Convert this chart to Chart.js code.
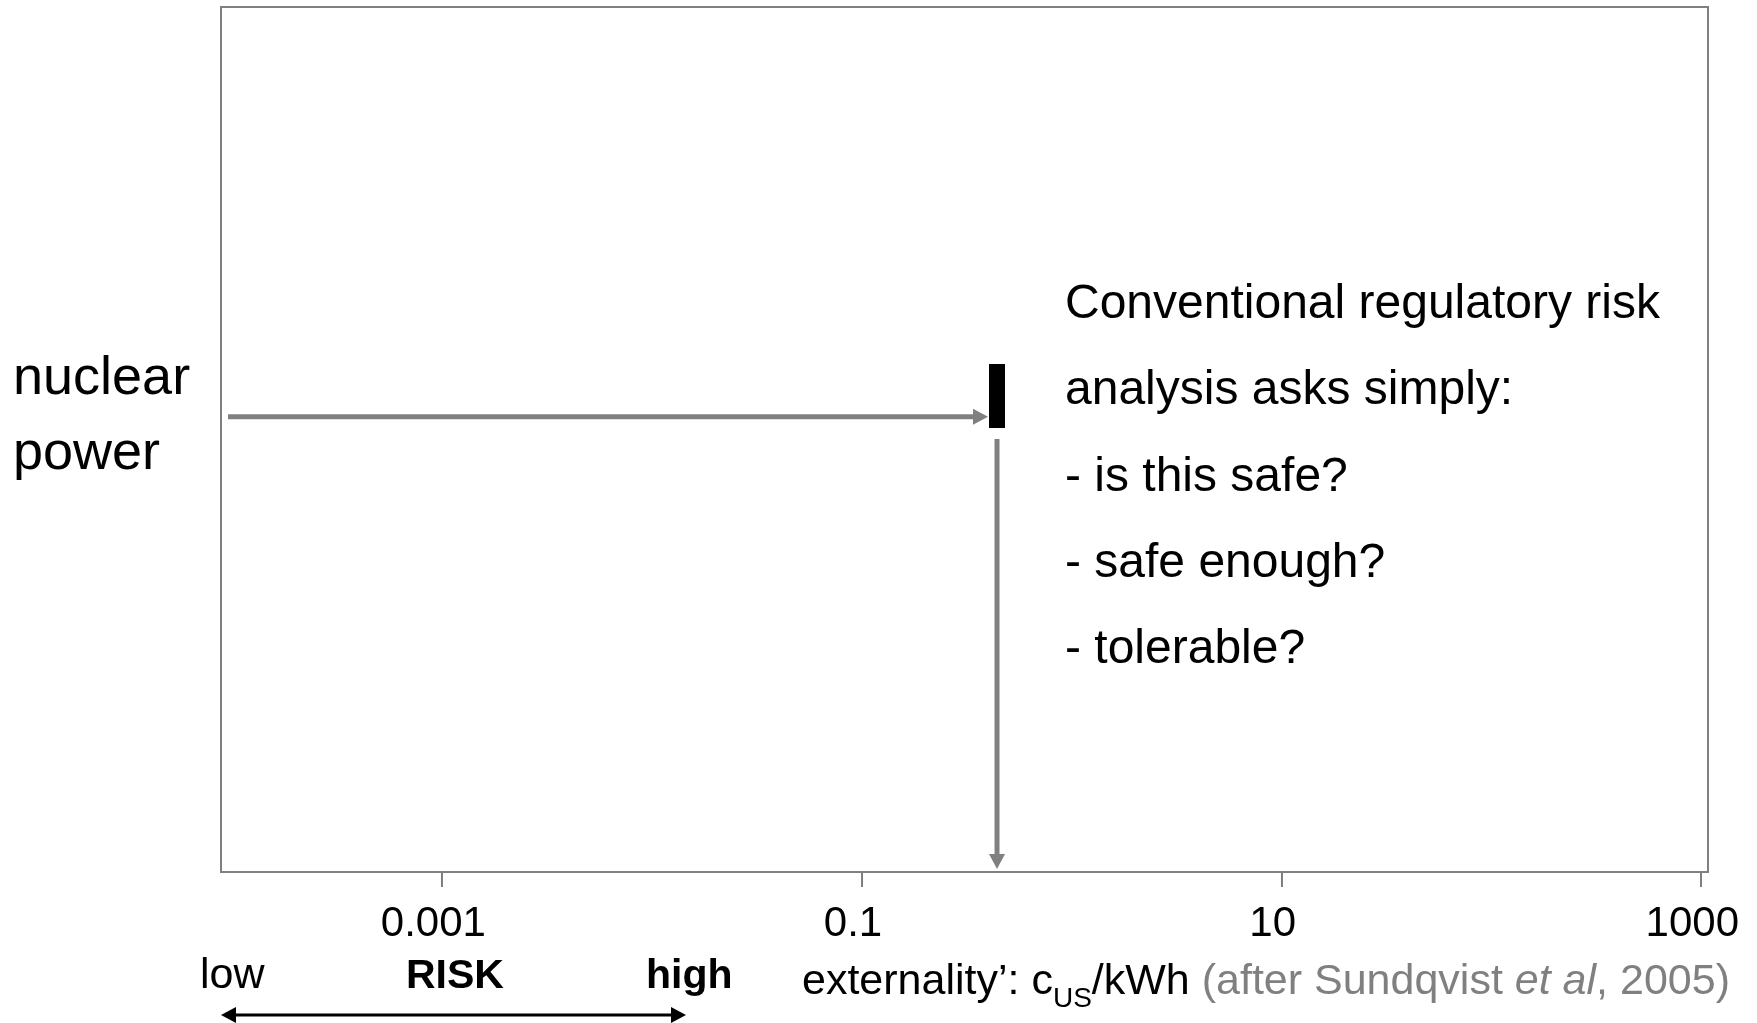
<!DOCTYPE html>
<html>
<head>
<meta charset="utf-8">
<script src="https://cdn.jsdelivr.net/npm/chart.js@4.4.0/dist/chart.umd.min.js"></script>
<style>
    html, body { margin: 0; padding: 0; background: #fff; }
    #wrap { width: 1757px; height: 1023px; position: relative; }
</style>
</head>
<body>
<div id="wrap"><canvas id="risk-chart"></canvas></div>
<script>
const categories = ['nuclear power'];
const externality = [0.44];            // c_US/kWh
const tickValues = [0.001, 0.1, 10, 1000];
const tickLabels = ['0.001', '0.1', '10', '1000'];
const questionLines = [
    'Conventional regulatory risk',
    'analysis asks simply:',
    '- is this safe?',
    '- safe enough?',
    '- tolerable?'
];

const GREY = '#808080';
const FONT = '"Liberation Sans", Arial, sans-serif';
const X_MIN = Math.pow(10, -4.055);
const X_MAX = Math.pow(10, 3.032);

// one row per category: arrow in from the left, black marker, drop line to the axis
function buildDatasets() {
    const sets = [];
    categories.forEach((cat, i) => {
        const row = i + 1;
        const v = externality[i];
        sets.push({
            label: cat,
            order: 0,
            data: [{ x: v, y: row - 0.025 }, { x: v, y: row + 0.116 }],
            borderColor: '#000',
            borderWidth: 16,
            borderCapStyle: 'butt'
        });
        sets.push({
            label: cat + ' arrow',
            order: 1,
            data: [{ x: X_MIN, y: row }, { x: v, y: row }],
            borderColor: GREY,
            borderWidth: 5,
            arrow: { gap: 9, tail: 7 }
        });
        sets.push({
            label: cat + ' drop',
            order: 1,
            data: [{ x: v, y: row - 0.049 }, { x: v, y: 0 }],
            borderColor: GREY,
            borderWidth: 5,
            arrow: { gap: 3, tail: 0 }
        });
    });
    return sets;
}

function arrowGeometry(meta, opt) {
    const pts = meta.data;
    const a = pts[0], b = pts[pts.length - 1];
    const len = Math.hypot(b.x - a.x, b.y - a.y) || 1;
    const ux = (b.x - a.x) / len, uy = (b.y - a.y) / len;
    const headLen = 15, headHalf = 8;
    const tip = { x: b.x - ux * opt.gap, y: b.y - uy * opt.gap };
    const base = { x: tip.x - ux * headLen, y: tip.y - uy * headLen };
    const tail = { x: a.x + ux * opt.tail, y: a.y + uy * opt.tail };
    return { ux, uy, px: -uy, py: ux, tip, base, tail, headHalf };
}

const arrowHeads = {
    id: 'arrowHeads',
    beforeDatasetDraw(chart, args) {
        const ds = chart.data.datasets[args.index];
        if (!ds.arrow) return;
        const g = arrowGeometry(args.meta, ds.arrow);
        const ctx = chart.ctx;
        const L = 50;
        ctx.save();
        ctx.beginPath();
        ctx.moveTo(g.tail.x + g.px * L, g.tail.y + g.py * L);
        ctx.lineTo(g.base.x + g.ux + g.px * L, g.base.y + g.uy + g.py * L);
        ctx.lineTo(g.base.x + g.ux - g.px * L, g.base.y + g.uy - g.py * L);
        ctx.lineTo(g.tail.x - g.px * L, g.tail.y - g.py * L);
        ctx.closePath();
        ctx.clip();
    },
    afterDatasetDraw(chart, args) {
        const ds = chart.data.datasets[args.index];
        if (!ds.arrow) return;
        const ctx = chart.ctx;
        ctx.restore();
        const g = arrowGeometry(args.meta, ds.arrow);
        ctx.save();
        ctx.fillStyle = ds.borderColor;
        ctx.beginPath();
        ctx.moveTo(g.tip.x, g.tip.y);
        ctx.lineTo(g.base.x + g.px * g.headHalf, g.base.y + g.py * g.headHalf);
        ctx.lineTo(g.base.x - g.px * g.headHalf, g.base.y - g.py * g.headHalf);
        ctx.closePath();
        ctx.fill();
        ctx.restore();
    }
};

const frame = {
    id: 'frame',
    beforeDatasetsDraw(chart) {
        const { ctx, chartArea: a } = chart;
        ctx.save();
        ctx.strokeStyle = GREY;
        ctx.lineWidth = 2;
        ctx.strokeRect(a.left, a.top, a.right - a.left, a.bottom - a.top);
        ctx.restore();
    }
};

function drawRuns(ctx, runs, x, y) {
    runs.forEach(r => {
        ctx.font = (r.italic ? 'italic ' : '') + (r.bold ? 'bold ' : '') + r.size + 'px ' + FONT;
        ctx.fillStyle = r.color;
        ctx.fillText(r.text, x, y + (r.dy || 0));
        x += ctx.measureText(r.text).width;
    });
}

const notes = {
    id: 'notes',
    afterDraw(chart) {
        const ctx = chart.ctx;
        ctx.save();
        ctx.textBaseline = 'alphabetic';
        ctx.textAlign = 'left';

        // question text on the right
        ctx.fillStyle = '#000';
        ctx.font = '48px ' + FONT;
        questionLines.forEach((line, i) => ctx.fillText(line, 1065, 318 + i * 86.3));

        // low  RISK  high
        drawRuns(ctx, [{ text: 'low', size: 43, color: '#000' }], 200, 988);
        drawRuns(ctx, [{ text: 'RISK', size: 41, color: '#000', bold: true }], 406, 988);
        drawRuns(ctx, [{ text: 'high', size: 41, color: '#000', bold: true }], 646, 988);

        // double-headed arrow under it
        const y = 1015, x0 = 221, x1 = 686;
        ctx.strokeStyle = '#000';
        ctx.fillStyle = '#000';
        ctx.lineWidth = 3;
        ctx.beginPath();
        ctx.moveTo(x0 + 10, y);
        ctx.lineTo(x1 - 10, y);
        ctx.stroke();
        ctx.beginPath();
        ctx.moveTo(x0, y); ctx.lineTo(x0 + 15, y - 8); ctx.lineTo(x0 + 15, y + 8); ctx.closePath();
        ctx.moveTo(x1, y); ctx.lineTo(x1 - 15, y - 8); ctx.lineTo(x1 - 15, y + 8); ctx.closePath();
        ctx.fill();

        // axis title
        drawRuns(ctx, [
            { text: 'externality\u2019: c', size: 43, color: '#000' },
            { text: 'US', size: 28, color: '#000', dy: 13 },
            { text: '/kWh ', size: 43, color: '#000' },
            { text: '(after Sundqvist ', size: 43, color: GREY },
            { text: 'et al', size: 43, color: GREY, italic: true },
            { text: ', 2005)', size: 43, color: GREY }
        ], 802, 994);
        ctx.restore();
    }
};

function createRiskChart() {
    const ctx = document.getElementById('risk-chart').getContext('2d');
    return new Chart(ctx, {
        type: 'line',
        data: { datasets: buildDatasets() },
        options: {
            responsive: true,
            maintainAspectRatio: false,
            animation: false,
            devicePixelRatio: 1,
            layout: { padding: { left: 13, top: 7, right: 49, bottom: 76 } },
            elements: { point: { radius: 0 }, line: { tension: 0 } },
            plugins: { legend: { display: false }, tooltip: { enabled: false } },
            scales: {
                x: {
                    type: 'logarithmic',
                    min: X_MIN,
                    max: X_MAX,
                    afterBuildTicks: s => { s.ticks = tickValues.map(v => ({ value: v })); },
                    afterFit: s => { s.height = 75; s.paddingLeft = 0; s.paddingRight = 0; },
                    ticks: {
                        autoSkip: false,
                        maxRotation: 0,
                        padding: 12,
                        labelOffset: -9,
                        color: '#000',
                        font: { family: FONT, size: 42 },
                        callback: v => tickLabels[tickValues.indexOf(v)] || ''
                    },
                    grid: {
                        display: true,
                        drawOnChartArea: false,
                        drawTicks: true,
                        tickLength: 15,
                        color: GREY,
                        lineWidth: 2
                    },
                    border: { display: false }
                },
                y: {
                    type: 'linear',
                    min: 0,
                    max: 1.9,
                    afterBuildTicks: s => { s.ticks = categories.map((c, i) => ({ value: i + 1 })); },
                    afterFit: s => { s.width = 208; s.paddingTop = 0; s.paddingBottom = 0; },
                    ticks: {
                        crossAlign: 'far',
                        padding: 36,
                        color: '#000',
                        font: { family: FONT, size: 54, lineHeight: 1.39 },
                        callback: v => categories[v - 1] ? categories[v - 1].split(' ') : ''
                    },
                    grid: { display: false },
                    border: { display: false }
                }
            }
        },
        plugins: [frame, arrowHeads, notes]
    });
}

createRiskChart();
</script>
</body>
</html>
